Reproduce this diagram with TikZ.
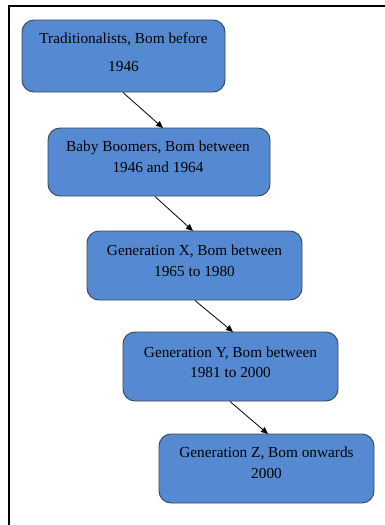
\documentclass[tikz,border=0pt]{standalone}
\usepackage{fontspec}
\setmainfont{Liberation Serif}
\usetikzlibrary{arrows.meta}
\definecolor{boxblue}{HTML}{558AD3}
\definecolor{boxedge}{HTML}{3B4654}
\tikzset{
  genbox/.style={draw=boxedge, line width=0.9pt, fill=boxblue, rounded corners=12pt,
    minimum width=#1, inner sep=0pt},
  gentext/.style={align=center, inner sep=0pt, font=\fontsize{15.3}{20.5}\selectfont},
  conn/.style={-{Triangle[length=7pt,width=6pt]}, line width=0.8pt, black}
}
\begin{document}
\begin{tikzpicture}[x=1pt,y=-1pt]
\useasboundingbox (0,0) rectangle (385,525);
\draw[line width=2.5pt] (9,525) -- (9,6) -- (385,6);
% boxes
\node[genbox=203pt, minimum height=72pt] (b1) at (123.5,56) {};
\node[gentext] (t1a) at (123.5,39) {Traditionalists, Bom before};
\node[gentext] (t1b) at (123.5,67) {1946};
\node[genbox=222pt, minimum height=68pt] (b2) at (159,162) {};
\node[gentext] (t2) at (158,157) {Baby Boomers, Bom between\\1946 and 1964};
\node[genbox=215pt, minimum height=69pt] (b3) at (194.5,265.5) {};
\node[gentext] (t3) at (194.5,261) {Generation X, Bom between\\1965 to 1980};
\node[genbox=215pt, minimum height=69pt] (b4) at (230.5,366.5) {};
\node[gentext] (t4) at (230.5,362.5) {Generation Y, Bom between\\1981 to 2000};
\node[genbox=215pt, minimum height=69pt] (b5) at (266.5,468.5) {};
\node[gentext] (t5) at (266.5,463) {Generation Z, Bom onwards\\2000};
% connectors
\coordinate (a1) at (123,92.5);
\coordinate (a2) at (155,196.5);
\coordinate (a3) at (195,300.5);
\coordinate (a4) at (230,401.5);
\coordinate (e1) at (163,128);
\coordinate (e2) at (193,231);
\coordinate (e3) at (233,332);
\coordinate (e4) at (268,434);
\draw[conn] (a1) -- (e1);
\draw[conn] (a2) -- (e2);
\draw[conn] (a3) -- (e3);
\draw[conn] (a4) -- (e4);
\end{tikzpicture}
\end{document}
